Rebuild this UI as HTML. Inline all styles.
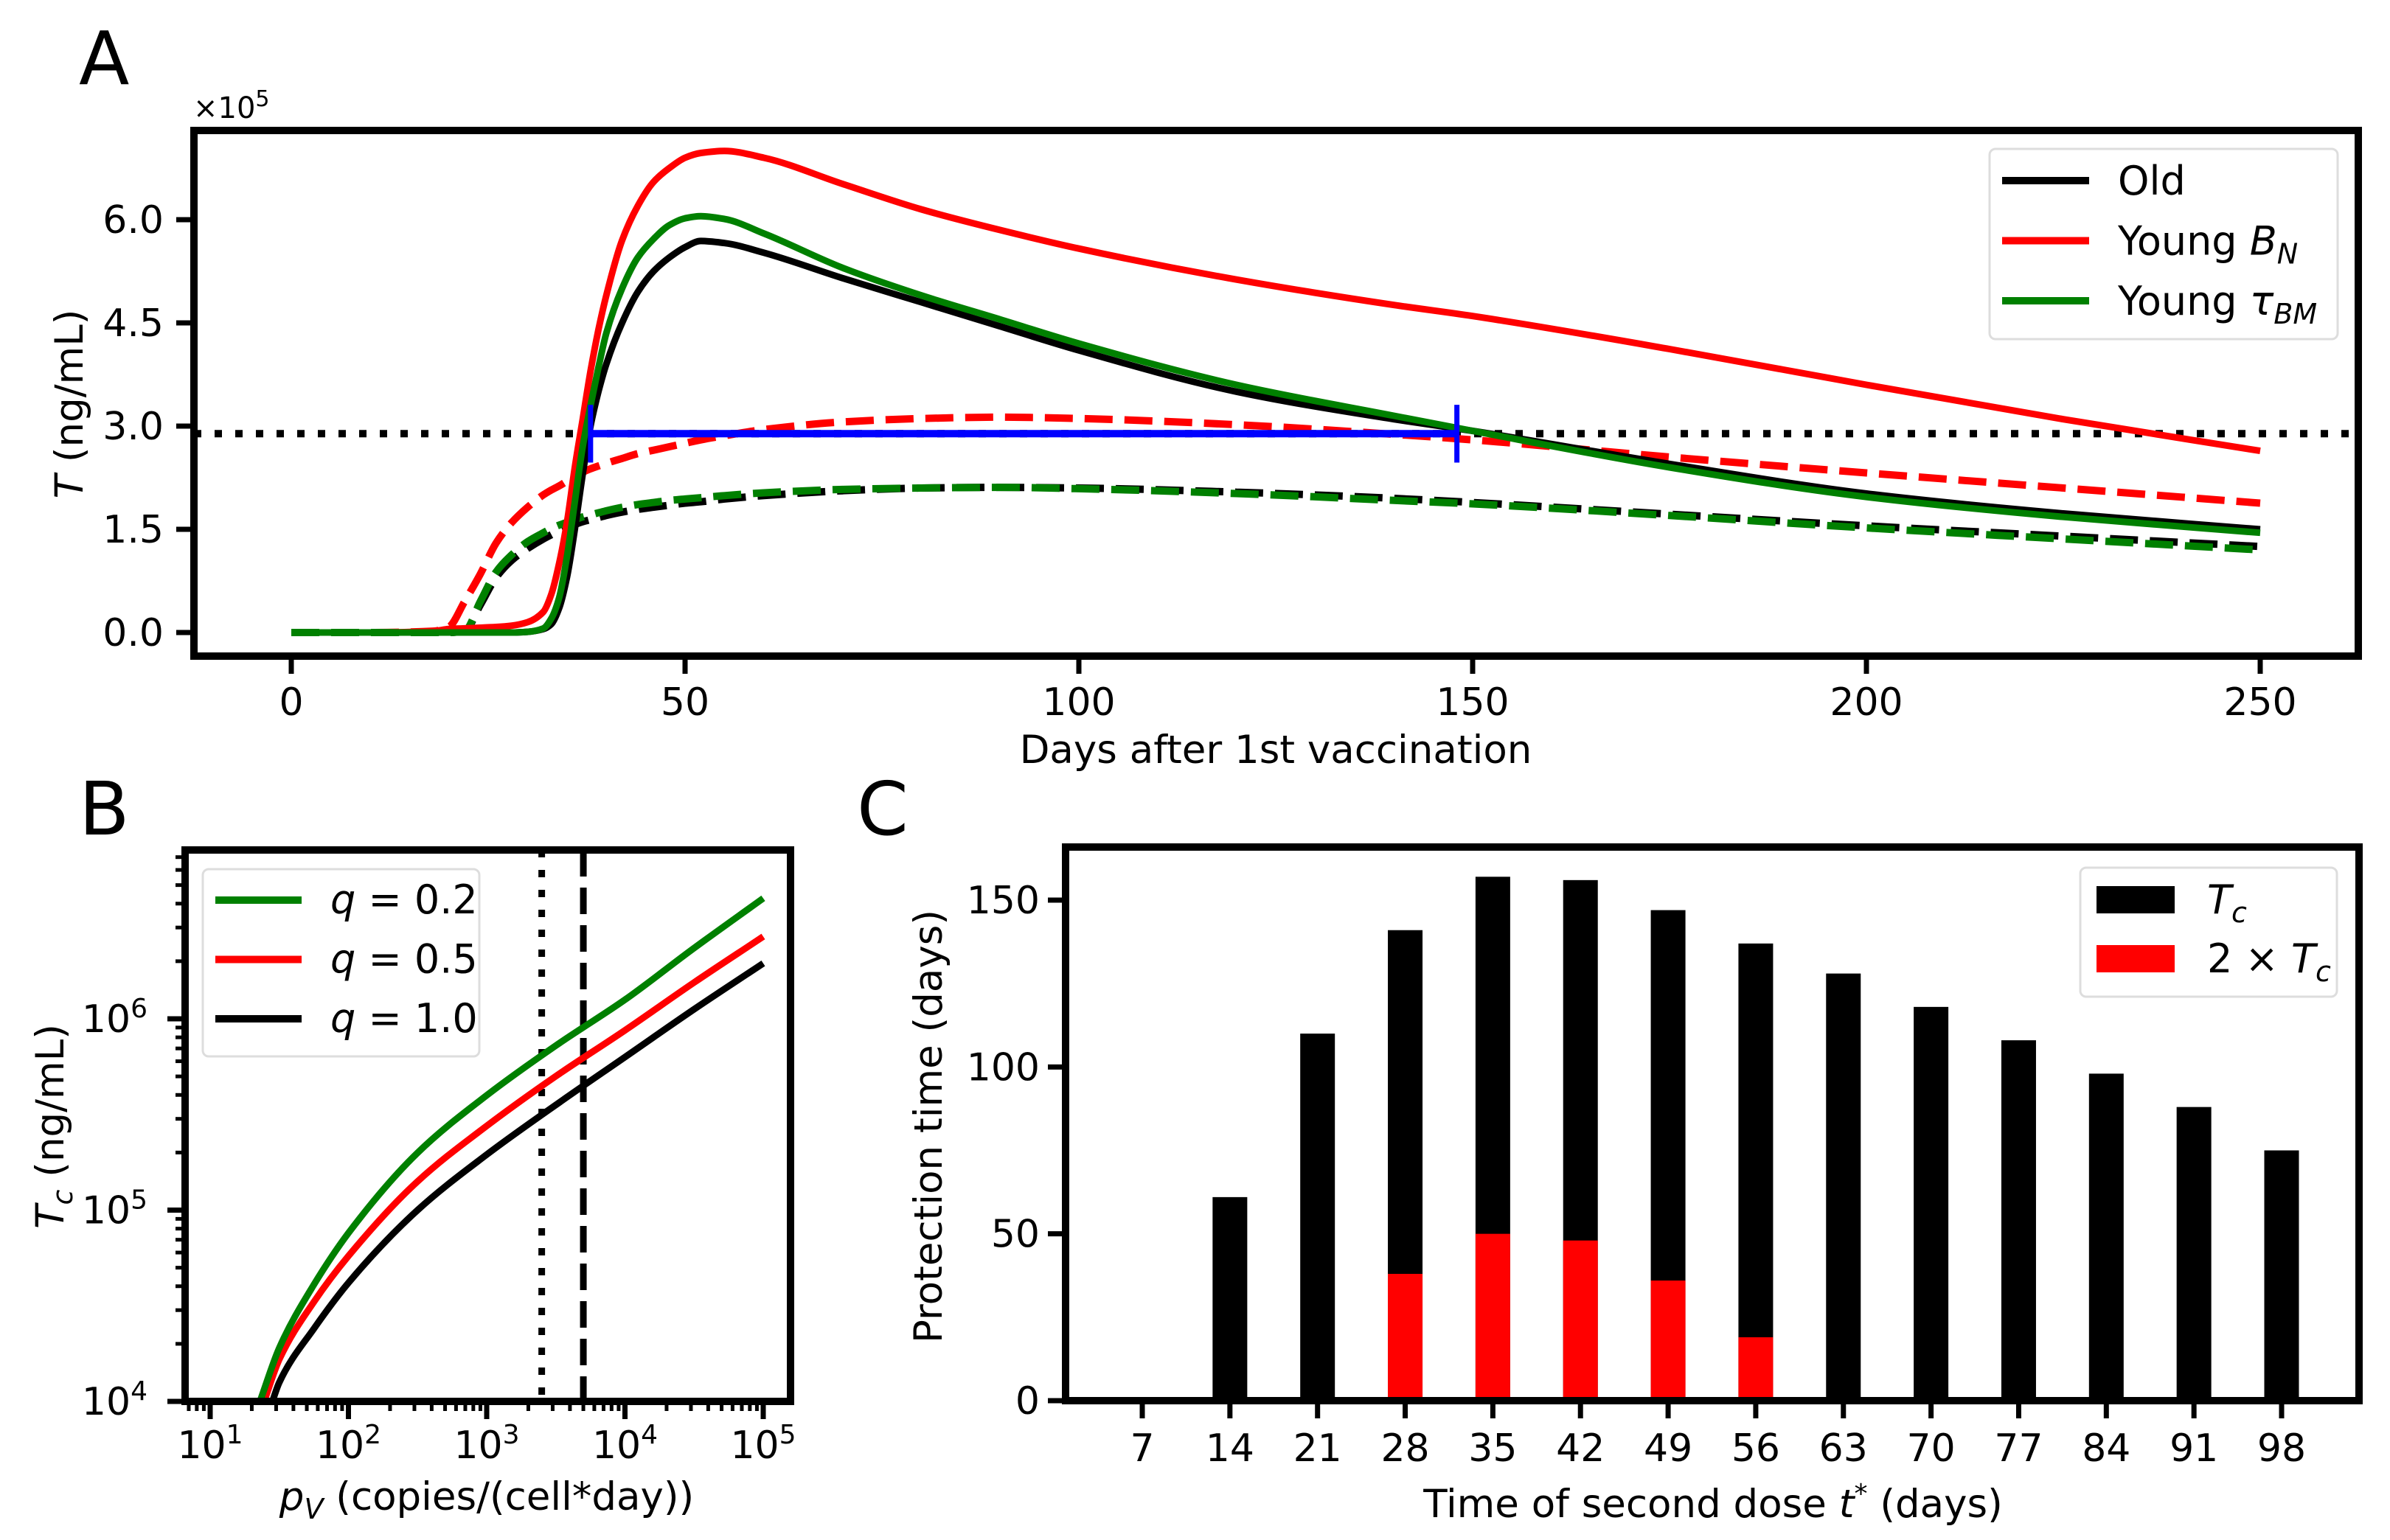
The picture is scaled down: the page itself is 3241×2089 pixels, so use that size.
<!DOCTYPE html>
<html><head><meta charset="utf-8">
<style>
html,body{margin:0;padding:0;background:#fff;}
svg{display:block;font-family:"DejaVu Sans","Liberation Sans",sans-serif;}
</style></head>
<body>
<svg id="fig" xmlns="http://www.w3.org/2000/svg" width="3241" height="2089" viewBox="0 0 3241 2089">
<rect x="0" y="0" width="3241" height="2089" fill="#fff"/>
<g id="gA"></g>
<g id="gB"></g>
<g id="gC"></g>
</svg>
<script>
// ---------- Panel A data ----------
const daysA = [0,10,18,20,22,24,26,28,30,32,33,34,35,36,37,38,39,40,42,44,46,48,50,52,55,60,70,80,90,100,120,140,150,175,200,225,250];
const oldSolid = [0,0,0,0,0,0,0,0,0.01,0.05,0.12,0.35,0.8,1.5,2.3,3.0,3.5,3.9,4.5,4.95,5.25,5.45,5.6,5.69,5.66,5.52,5.15,4.8,4.45,4.1,3.5,3.1,2.93,2.45,2.02,1.73,1.5];
const youngTauSolid = [0,0,0,0,0,0,0,0,0.01,0.06,0.2,0.5,1.1,1.9,2.7,3.3,3.85,4.35,5.0,5.45,5.72,5.92,6.02,6.05,6.01,5.8,5.3,4.9,4.55,4.2,3.6,3.15,2.93,2.4,1.97,1.68,1.45];
const youngBnSolid = [0,0,0.02,0.05,0.06,0.07,0.08,0.1,0.15,0.3,0.55,1.0,1.6,2.4,3.1,3.8,4.4,4.9,5.7,6.2,6.55,6.75,6.9,6.97,7.0,6.9,6.52,6.15,5.85,5.58,5.13,4.76,4.6,4.12,3.6,3.1,2.64];
const youngBnDashed = [0,0,0.02,0.08,0.45,0.85,1.3,1.6,1.82,2.0,2.07,2.13,2.2,2.27,2.33,2.38,2.42,2.46,2.53,2.6,2.65,2.7,2.75,2.8,2.86,2.95,3.06,3.11,3.13,3.11,3.02,2.88,2.8,2.55,2.32,2.1,1.88];
const oldDashed = [0,0,0,0,0.02,0.4,0.8,1.05,1.22,1.36,1.42,1.48,1.52,1.57,1.61,1.64,1.67,1.7,1.75,1.79,1.82,1.85,1.88,1.9,1.94,1.99,2.06,2.1,2.11,2.1,2.04,1.95,1.89,1.72,1.55,1.4,1.25];
const youngTauDashed = [0,0,0,0,0.02,0.45,0.88,1.13,1.32,1.45,1.51,1.56,1.6,1.64,1.68,1.71,1.74,1.77,1.82,1.86,1.89,1.92,1.94,1.96,1.99,2.03,2.08,2.1,2.11,2.09,2.02,1.92,1.87,1.7,1.52,1.36,1.2];
const thresholdA = [2.89];
const protectStartEnd = [38, 148];
const xTicksA = [0,50,100,150,200,250];
const yTicksA = [0.0,1.5,3.0,4.5,6.0];
// ---------- Panel B data ----------
const logPvGreen = [1.36,1.5,1.75,2,2.5,3,3.5,4,4.5,5];
const logTcGreen = [4.0,4.28,4.61,4.88,5.3,5.6,5.86,6.1,6.37,6.63];
const logPvRed = [1.39,1.5,1.75,2,2.5,3,3.5,4,4.5,5];
const logTcRed = [4.0,4.22,4.52,4.76,5.15,5.44,5.7,5.94,6.19,6.43];
const logPvBlack = [1.45,1.5,1.75,2,2.5,3,3.5,4,4.5,5];
const logTcBlack = [4.0,4.1,4.38,4.62,5.0,5.29,5.55,5.8,6.05,6.29];
const vlinesB = [2500, 5000];
const xTicksB = [1,2,3,4,5];
const yTicksB = [4,5,6];
// ---------- Panel C data ----------
const secondDose = [7,14,21,28,35,42,49,56,63,70,77,84,91,98];
const protTc = [0,61,110,141,157,156,147,137,128,118,108,98,88,75];
const prot2Tc = [0,0,0,38,50,48,36,19,0,0,0,0,0,0];
const yTicksC = [0,50,100,150];

const NS = "http://www.w3.org/2000/svg";
function mk(tag, attrs, parent){const e=document.createElementNS(NS,tag);for(const k in attrs)e.setAttribute(k,attrs[k]);parent.appendChild(e);return e;}
function monoPath(xs, ys){
  const n=xs.length; const d=[],m=[];
  for(let i=0;i<n-1;i++){d.push((ys[i+1]-ys[i])/(xs[i+1]-xs[i]));}
  m[0]=d[0];m[n-1]=d[n-2];
  for(let i=1;i<n-1;i++){ if(d[i-1]*d[i]<=0)m[i]=0; else {const h0=xs[i]-xs[i-1],h1=xs[i+1]-xs[i];const w1=2*h1+h0,w2=h1+2*h0;m[i]=(w1+w2)/(w1/d[i-1]+w2/d[i]);} }
  let p="M"+xs[0].toFixed(1)+","+ys[0].toFixed(1);
  for(let i=0;i<n-1;i++){const h=(xs[i+1]-xs[i])/3;p+=" C"+(xs[i]+h).toFixed(1)+","+(ys[i]+m[i]*h).toFixed(1)+" "+(xs[i+1]-h).toFixed(1)+","+(ys[i+1]-m[i+1]*h).toFixed(1)+" "+xs[i+1].toFixed(1)+","+ys[i+1].toFixed(1);}
  return p;
}
function txt(parent,x,y,s,size,anchor,extra){const t=mk("text",Object.assign({x:x,y:y,"font-size":size,"text-anchor":anchor||"middle"},extra||{}),parent);t.innerHTML=s;return t;}

// ================= Panel A =================
(function(){
const g=document.getElementById("gA");
const L=263,R=3198,T=177,B=890;
const xA=d=>395+d*(3065-395)/250;
const yA=v=>858-v*(858-298)/6;
const lbl=txt(g,107,114,"A",100,"start");

const mult=txt(g,262,160,"×10<tspan font-size='30' dy='-16'>5</tspan>",40,"start");

const clipA=mk("clipPath",{id:"clipA"},g);mk("rect",{x:L,y:T,width:R-L,height:B-T},clipA);
const plot=mk("g",{"clip-path":"url(#clipA)"},g);

const thr=mk("line",{x1:L,x2:R,y1:yA(thresholdA[0]),y2:yA(thresholdA[0]),stroke:"#000","stroke-width":10,"stroke-dasharray":"10,18"},plot);

const series=[
 [youngBnDashed,"#ff0000",true,"young-bn-dashed"],
 [oldDashed,"#000000",true,"old-dashed"],
 [youngTauDashed,"#008000",true,"young-tau-dashed"],
 [youngBnSolid,"#ff0000",false,"young-bn-solid"],
 [oldSolid,"#000000",false,"old-solid"],
 [youngTauSolid,"#008000",false,"young-tau-solid"]];
series.forEach(s=>{
  const p=mk("path",{d:monoPath(daysA.map(xA),s[0].map(yA)),fill:"none",stroke:s[1],"stroke-width":s[2]?10:9,"stroke-dasharray":s[2]?"38,16":"none"},plot);
  
});
const by=yA(thresholdA[0]);
const bl=mk("line",{x1:xA(protectStartEnd[0]),x2:xA(protectStartEnd[1]),y1:by,y2:by,stroke:"#0000ff","stroke-width":10},plot);

protectStartEnd.forEach(d=>{const c=mk("line",{x1:xA(d),x2:xA(d),y1:yA(thresholdA[0]+0.42),y2:yA(thresholdA[0]-0.42),stroke:"#0000ff","stroke-width":7},plot);
 });
const fr=mk("rect",{x:L,y:T,width:R-L,height:B-T,fill:"none",stroke:"#000","stroke-width":10},g);

xTicksA.forEach(v=>{const x=xA(v);mk("line",{x1:x,x2:x,y1:B,y2:B+24,stroke:"#000","stroke-width":7},g);
 const t=txt(g,x,970,String(v),52);});
yTicksA.forEach(v=>{const y=yA(v);mk("line",{x1:L-24,x2:L,y1:y,y2:y,stroke:"#000","stroke-width":7},g);
 const t=txt(g,222,y+18,v.toFixed(1),52,"end");});
const xt=txt(g,1730,1035,"Days after 1st vaccination",53);
const yt=txt(g,0,0,"<tspan font-style='italic'>T</tspan> (ng/mL)",53,"middle",{transform:"translate(112,548) rotate(-90)"});

const lg=mk("g",{},g);
mk("rect",{x:2698,y:202,width:472,height:258,rx:8,fill:"#fff",stroke:"#ddd","stroke-width":3},lg);
const ents=[["Old","#000"],["Young <tspan font-style='italic'>B</tspan><tspan font-style='italic' font-size='38' dy='12'>N</tspan>","#ff0000"],["Young <tspan font-style='italic'>τ</tspan><tspan font-style='italic' font-size='38' dy='12'>BM</tspan>","#008000"]];
ents.forEach((e,i)=>{const y=245+i*81.5;const en=mk("g",{},lg);
 mk("line",{x1:2715,x2:2833,y1:y,y2:y,stroke:e[1],"stroke-width":10},en);txt(en,2872,y+19,e[0],54,"start");});
})();

// ================= Panel B =================
(function(){
const g=document.getElementById("gB");
const L=251,R=1072,T=1153,B=1901;
const xB=l=>285+(l-1)*187.5;
const yB=l=>1901-(l-4)*259.5;
const lbl=txt(g,107,1132,"B",100,"start");
const clip=mk("clipPath",{id:"clipB"},g);mk("rect",{x:L,y:T,width:R-L,height:B-T},clip);
const plot=mk("g",{"clip-path":"url(#clipB)"},g);
const v1=mk("line",{x1:xB(Math.log10(vlinesB[0])),x2:xB(Math.log10(vlinesB[0])),y1:T,y2:B,stroke:"#000","stroke-width":9,"stroke-dasharray":"10,17"},plot);

const v2=mk("line",{x1:xB(Math.log10(vlinesB[1])),x2:xB(Math.log10(vlinesB[1])),y1:T,y2:B,stroke:"#000","stroke-width":9,"stroke-dasharray":"36,15"},plot);

[[logPvBlack,logTcBlack,"#000","q-1-0-line"],[logPvRed,logTcRed,"#ff0000","q-0-5-line"],[logPvGreen,logTcGreen,"#008000","q-0-2-line"]].forEach(s=>{
 const p=mk("path",{d:monoPath(s[0].map(xB),s[1].map(yB)),fill:"none",stroke:s[2],"stroke-width":9},plot);
 });
const fr=mk("rect",{x:L,y:T,width:R-L,height:B-T,fill:"none",stroke:"#000","stroke-width":10},g);

for(let dec=0;dec<=5;dec++){for(let k=2;k<=9;k++){const l=dec+Math.log10(k);const x=xB(l);if(x>L&&x<R)mk("line",{x1:x,x2:x,y1:B,y2:B+13,stroke:"#000","stroke-width":5},g);}}
for(let dec=4;dec<=6;dec++){for(let k=2;k<=9;k++){const l=dec+Math.log10(k);const y=yB(l);if(y>T&&y<B)mk("line",{x1:L-13,x2:L,y1:y,y2:y,stroke:"#000","stroke-width":5},g);}}
xTicksB.forEach(v=>{const x=xB(v);mk("line",{x1:x,x2:x,y1:B,y2:B+24,stroke:"#000","stroke-width":7},g);
 const t=txt(g,x,1978,"10<tspan font-size='36' dy='-20'>"+v+"</tspan>",52);});
yTicksB.forEach(v=>{const y=yB(v);mk("line",{x1:L-24,x2:L,y1:y,y2:y,stroke:"#000","stroke-width":7},g);
 const t=txt(g,200,y+18,"10<tspan font-size='36' dy='-20'>"+v+"</tspan>",52,"end");});
const xt=txt(g,660,2048,"<tspan font-style='italic'>p</tspan><tspan font-style='italic' font-size='38' dy='12'>V</tspan><tspan dy='-12'> (copies/(cell*day))</tspan>",53);

const yt=txt(g,0,0,"<tspan font-style='italic'>T</tspan><tspan font-style='italic' font-size='38' dy='12'>c</tspan><tspan dy='-12'> (ng/mL)</tspan>",53,"middle",{transform:"translate(86,1528) rotate(-90)"});

const lg=mk("g",{},g);
mk("rect",{x:275,y:1179,width:375,height:254,rx:8,fill:"#fff",stroke:"#ddd","stroke-width":3},lg);
[["0.2","#008000"],["0.5","#ff0000"],["1.0","#000"]].forEach((e,i)=>{const y=1221+i*80.5;const en=mk("g",{},lg);
 mk("line",{x1:292,x2:409,y1:y,y2:y,stroke:e[1],"stroke-width":10},en);txt(en,448,y+18,"<tspan font-style='italic'>q</tspan> = "+e[0],54,"start");});
})();

// ================= Panel C =================
(function(){
const g=document.getElementById("gC");
const L=1445,R=3199,T=1149,B=1900;
const xC=i=>1549+i*(3094-1549)/13;
const yC=v=>1900-v*(1900-1221)/150;
const bw=47;
const lbl=txt(g,1162,1132,"C",100,"start");
secondDose.forEach((d,i)=>{
 if(protTc[i]>0){const b=mk("rect",{x:xC(i)-bw/2,y:yC(protTc[i]),width:bw,height:yC(0)-yC(protTc[i]),fill:"#000"},g);
  }
 if(prot2Tc[i]>0){const b=mk("rect",{x:xC(i)-bw/2,y:yC(prot2Tc[i]),width:bw,height:yC(0)-yC(prot2Tc[i]),fill:"#ff0000"},g);
  }
});
const fr=mk("rect",{x:L,y:T,width:R-L,height:B-T,fill:"none",stroke:"#000","stroke-width":10},g);

secondDose.forEach((d,i)=>{const x=xC(i);mk("line",{x1:x,x2:x,y1:B,y2:B+24,stroke:"#000","stroke-width":7},g);
 const t=txt(g,x,1982,String(d),52);});
yTicksC.forEach(v=>{const y=yC(v);mk("line",{x1:L-24,x2:L,y1:y,y2:y,stroke:"#000","stroke-width":7},g);
 const t=txt(g,1410,y+18,String(v),52,"end");});
const xt=txt(g,2323,2058,"Time of second dose <tspan font-style='italic'>t</tspan><tspan font-size='36' dy='-20'>*</tspan><tspan dy='20'> (days)</tspan>",53);

const yt=txt(g,0,0,"Protection time (days)",53,"middle",{transform:"translate(1277,1528) rotate(-90)"});

const lg=mk("g",{},g);
mk("rect",{x:2821,y:1177,width:348,height:175,rx:8,fill:"#fff",stroke:"#ddd","stroke-width":3},lg);
[["<tspan font-style='italic'>T</tspan><tspan font-style='italic' font-size='38' dy='12'>c</tspan>","#000"],["2 × <tspan font-style='italic'>T</tspan><tspan font-style='italic' font-size='38' dy='12'>c</tspan>","#ff0000"]].forEach((e,i)=>{
 const y=1221+i*80;const en=mk("g",{},lg);
 mk("rect",{x:2843,y:y-19,width:106,height:37,fill:e[1]},en);txt(en,2993,y+18,e[0],54,"start");});
})();
</script>
</body></html>
